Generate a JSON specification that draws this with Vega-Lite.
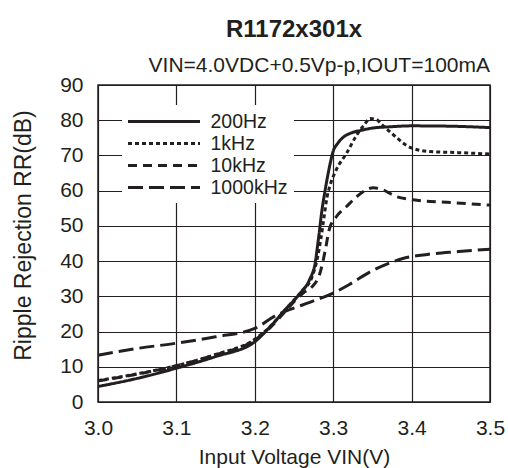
{
  "$schema": "https://vega.github.io/schema/vega-lite/v6.json",
  "width": 392,
  "height": 317,
  "autosize": {"type": "none"},
  "padding": {"left": 98, "top": 85, "right": 18, "bottom": 66},
  "background": "white",
  "title": {"text": "R1172x301x", "fontSize": 24, "fontWeight": "bold", "font": "Liberation Sans", "color": "#231f20", "anchor": "middle", "offset": 13},
  "config": {
    "view": {"stroke": "#231f20", "strokeWidth": 1.5},
    "font": "Liberation Sans"
  },
  "layer": [
    {
      "data": {
        "values": [
          {"v": 3.00, "rr": 4.4, "f": "200Hz"},
          {"v": 3.05, "rr": 6.7, "f": "200Hz"},
          {"v": 3.10, "rr": 9.6, "f": "200Hz"},
          {"v": 3.15, "rr": 12.9, "f": "200Hz"},
          {"v": 3.20, "rr": 17.1, "f": "200Hz"},
          {"v": 3.22, "rr": 21.5, "f": "200Hz"},
          {"v": 3.24, "rr": 26.5, "f": "200Hz"},
          {"v": 3.258, "rr": 30.9, "f": "200Hz"},
          {"v": 3.270, "rr": 34.8, "f": "200Hz"},
          {"v": 3.277, "rr": 39.5, "f": "200Hz"},
          {"v": 3.281, "rr": 46.0, "f": "200Hz"},
          {"v": 3.286, "rr": 55.0, "f": "200Hz"},
          {"v": 3.290, "rr": 60.5, "f": "200Hz"},
          {"v": 3.295, "rr": 66.5, "f": "200Hz"},
          {"v": 3.300, "rr": 71.2, "f": "200Hz"},
          {"v": 3.306, "rr": 73.5, "f": "200Hz"},
          {"v": 3.313, "rr": 75.2, "f": "200Hz"},
          {"v": 3.322, "rr": 76.3, "f": "200Hz"},
          {"v": 3.335, "rr": 77.1, "f": "200Hz"},
          {"v": 3.351, "rr": 77.8, "f": "200Hz"},
          {"v": 3.370, "rr": 78.1, "f": "200Hz"},
          {"v": 3.40, "rr": 78.4, "f": "200Hz"},
          {"v": 3.45, "rr": 78.3, "f": "200Hz"},
          {"v": 3.50, "rr": 77.9, "f": "200Hz"},

          {"v": 3.00, "rr": 6.1, "f": "1kHz"},
          {"v": 3.05, "rr": 8.0, "f": "1kHz"},
          {"v": 3.10, "rr": 10.3, "f": "1kHz"},
          {"v": 3.15, "rr": 13.5, "f": "1kHz"},
          {"v": 3.20, "rr": 17.8, "f": "1kHz"},
          {"v": 3.22, "rr": 21.5, "f": "1kHz"},
          {"v": 3.24, "rr": 26.5, "f": "1kHz"},
          {"v": 3.26, "rr": 31.5, "f": "1kHz"},
          {"v": 3.273, "rr": 35.5, "f": "1kHz"},
          {"v": 3.280, "rr": 41.0, "f": "1kHz"},
          {"v": 3.284, "rr": 46.0, "f": "1kHz"},
          {"v": 3.288, "rr": 52.0, "f": "1kHz"},
          {"v": 3.292, "rr": 58.0, "f": "1kHz"},
          {"v": 3.296, "rr": 61.5, "f": "1kHz"},
          {"v": 3.304, "rr": 66.0, "f": "1kHz"},
          {"v": 3.317, "rr": 70.6, "f": "1kHz"},
          {"v": 3.330, "rr": 75.8, "f": "1kHz"},
          {"v": 3.340, "rr": 78.8, "f": "1kHz"},
          {"v": 3.347, "rr": 80.5, "f": "1kHz"},
          {"v": 3.355, "rr": 80.2, "f": "1kHz"},
          {"v": 3.362, "rr": 78.8, "f": "1kHz"},
          {"v": 3.377, "rr": 75.8, "f": "1kHz"},
          {"v": 3.398, "rr": 72.3, "f": "1kHz"},
          {"v": 3.423, "rr": 71.1, "f": "1kHz"},
          {"v": 3.46, "rr": 70.8, "f": "1kHz"},
          {"v": 3.50, "rr": 70.4, "f": "1kHz"},

          {"v": 3.00, "rr": 6.0, "f": "10kHz"},
          {"v": 3.05, "rr": 7.9, "f": "10kHz"},
          {"v": 3.10, "rr": 10.3, "f": "10kHz"},
          {"v": 3.15, "rr": 13.4, "f": "10kHz"},
          {"v": 3.20, "rr": 17.6, "f": "10kHz"},
          {"v": 3.22, "rr": 21.2, "f": "10kHz"},
          {"v": 3.24, "rr": 26.0, "f": "10kHz"},
          {"v": 3.25, "rr": 28.5, "f": "10kHz"},
          {"v": 3.262, "rr": 31.0, "f": "10kHz"},
          {"v": 3.273, "rr": 32.7, "f": "10kHz"},
          {"v": 3.283, "rr": 36.5, "f": "10kHz"},
          {"v": 3.290, "rr": 43.2, "f": "10kHz"},
          {"v": 3.295, "rr": 49.0, "f": "10kHz"},
          {"v": 3.304, "rr": 52.6, "f": "10kHz"},
          {"v": 3.317, "rr": 55.5, "f": "10kHz"},
          {"v": 3.330, "rr": 58.3, "f": "10kHz"},
          {"v": 3.342, "rr": 60.2, "f": "10kHz"},
          {"v": 3.351, "rr": 60.8, "f": "10kHz"},
          {"v": 3.360, "rr": 60.5, "f": "10kHz"},
          {"v": 3.381, "rr": 58.3, "f": "10kHz"},
          {"v": 3.402, "rr": 57.4, "f": "10kHz"},
          {"v": 3.445, "rr": 56.7, "f": "10kHz"},
          {"v": 3.50, "rr": 55.9, "f": "10kHz"},

          {"v": 3.00, "rr": 13.3, "f": "1000kHz"},
          {"v": 3.05, "rr": 15.2, "f": "1000kHz"},
          {"v": 3.10, "rr": 16.7, "f": "1000kHz"},
          {"v": 3.15, "rr": 18.5, "f": "1000kHz"},
          {"v": 3.20, "rr": 20.9, "f": "1000kHz"},
          {"v": 3.228, "rr": 24.7, "f": "1000kHz"},
          {"v": 3.249, "rr": 26.6, "f": "1000kHz"},
          {"v": 3.27, "rr": 28.3, "f": "1000kHz"},
          {"v": 3.30, "rr": 30.9, "f": "1000kHz"},
          {"v": 3.32, "rr": 33.3, "f": "1000kHz"},
          {"v": 3.35, "rr": 37.3, "f": "1000kHz"},
          {"v": 3.37, "rr": 39.3, "f": "1000kHz"},
          {"v": 3.39, "rr": 40.8, "f": "1000kHz"},
          {"v": 3.42, "rr": 41.9, "f": "1000kHz"},
          {"v": 3.46, "rr": 42.7, "f": "1000kHz"},
          {"v": 3.50, "rr": 43.4, "f": "1000kHz"}
        ]
      },
      "mark": {"type": "line", "strokeWidth": 3, "color": "#231f20", "interpolate": "monotone"},
      "encoding": {
        "x": {
          "field": "v", "type": "quantitative",
          "scale": {"domain": [3.0, 3.5], "nice": false, "zero": false},
          "axis": {
            "values": [3.0, 3.1, 3.2, 3.3, 3.4, 3.5], "format": ".1f",
            "grid": true, "gridColor": "#231f20", "gridOpacity": 1, "gridWidth": 1.2,
            "ticks": false, "domain": false,
            "labelFontSize": 21, "labelPadding": 15, "labelColor": "#231f20", "labelFlush": false, "labelOverlap": false,
            "title": "Input Voltage VIN(V)", "titleFontSize": 21, "titleFontWeight": "normal", "titleColor": "#231f20", "titlePadding": 8
          }
        },
        "y": {
          "field": "rr", "type": "quantitative",
          "scale": {"domain": [0, 90], "nice": false, "zero": true},
          "axis": {
            "values": [0, 10, 20, 30, 40, 50, 60, 70, 80, 90], "format": "d",
            "grid": true, "gridColor": "#231f20", "gridOpacity": 1, "gridWidth": 1.2,
            "ticks": false, "domain": false,
            "labelFontSize": 21, "labelPadding": 15, "labelColor": "#231f20", "labelFlush": false, "labelOverlap": false,
            "title": "Ripple Rejection RR(dB)", "titleFontSize": 23, "titleFontWeight": "normal", "titleColor": "#231f20", "titlePadding": 24, "titleY": 150
          }
        },
        "strokeDash": {
          "field": "f", "type": "nominal",
          "scale": {"domain": ["200Hz", "1kHz", "10kHz", "1000kHz"], "range": [[1, 0], [4, 3], [9, 6], [15, 6]]},
          "legend": {
            "orient": "none", "legendX": 24, "legendY": 20, "title": null,
            "fillColor": "white", "padding": 6,
            "symbolType": "M-4,0H4", "symbolSize": 324, "symbolStrokeWidth": 3, "symbolStrokeColor": "#231f20",
            "symbolOffset": 25.5, "labelOffset": 36, "labelFontSize": 19.5, "labelColor": "#231f20",
            "rowPadding": 2, "labelLimit": 200
          }
        }
      }
    },
    {
      "data": {"values": [{"v": 3.5, "rr": 90, "t": "VIN=4.0VDC+0.5Vp-p,IOUT=100mA"}]},
      "mark": {"type": "text", "align": "right", "baseline": "alphabetic", "dy": -13, "fontSize": 21, "color": "#231f20"},
      "encoding": {
        "x": {
          "field": "v", "type": "quantitative",
          "axis": {
            "values": [3.0, 3.1, 3.2, 3.3, 3.4, 3.5], "format": ".1f",
            "grid": true, "gridColor": "#231f20", "gridOpacity": 1, "gridWidth": 1.2,
            "ticks": false, "domain": false,
            "labelFontSize": 21, "labelPadding": 15, "labelColor": "#231f20", "labelFlush": false, "labelOverlap": false,
            "title": "Input Voltage VIN(V)", "titleFontSize": 21, "titleFontWeight": "normal", "titleColor": "#231f20", "titlePadding": 8
          }
        },
        "y": {
          "field": "rr", "type": "quantitative",
          "axis": {
            "values": [0, 10, 20, 30, 40, 50, 60, 70, 80, 90], "format": "d",
            "grid": true, "gridColor": "#231f20", "gridOpacity": 1, "gridWidth": 1.2,
            "ticks": false, "domain": false,
            "labelFontSize": 21, "labelPadding": 15, "labelColor": "#231f20", "labelFlush": false, "labelOverlap": false,
            "title": "Ripple Rejection RR(dB)", "titleFontSize": 23, "titleFontWeight": "normal", "titleColor": "#231f20", "titlePadding": 24, "titleY": 150
          }
        },
        "text": {"field": "t"}
      }
    }
  ]
}
